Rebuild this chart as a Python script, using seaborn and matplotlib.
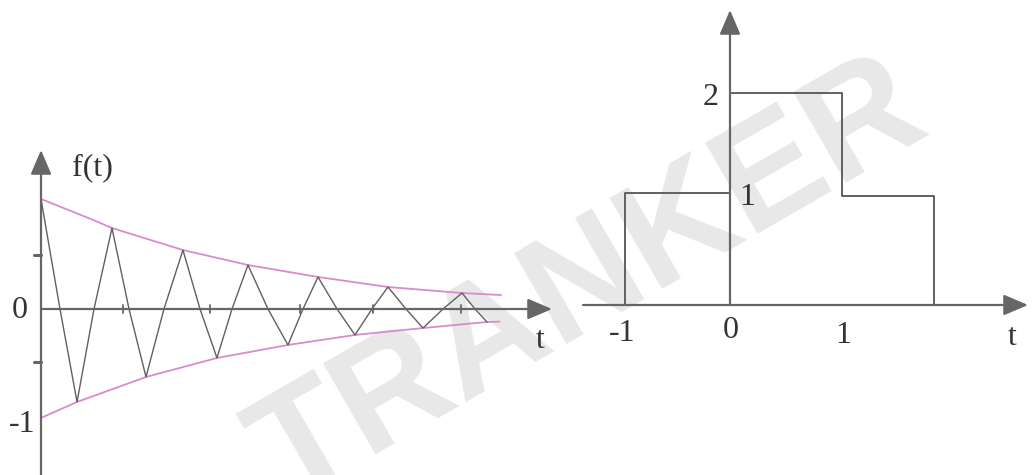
import matplotlib
matplotlib.use("Agg")
import matplotlib.pyplot as plt
import seaborn as sns

# ---------------- data ----------------
# left panel: damped oscillation f(t), extrema and zero crossings
wave_t = [0.0, 0.226, 0.429, 0.631, 0.845, 1.048, 1.25, 1.464, 1.69, 1.893,
          2.095, 2.274, 2.464, 2.702, 2.94, 3.119, 3.298, 3.524, 3.738, 3.94,
          4.131, 4.345, 4.548, 4.786, 5.012, 5.167, 5.31]
wave_f = [1.0, 0.0, -0.845, 0.0, 0.736, 0.0, -0.618, 0.0, 0.536, 0.0,
          -0.445, 0.0, 0.4, 0.0, -0.327, 0.0, 0.291, 0.0, -0.236, 0.0,
          0.2, 0.0, -0.173, 0.0, 0.145, 0.0, -0.118]
# envelopes
env_up_t = [0.0, 0.62, 0.845, 1.69, 2.464, 3.298, 4.131, 5.012, 5.476]
env_up_f = [1.0, 0.81, 0.736, 0.536, 0.4, 0.291, 0.2, 0.145, 0.127]
env_lo_t = [0.0, 0.429, 1.25, 2.095, 2.94, 3.738, 4.548, 5.31, 5.46]
env_lo_f = [-0.99, -0.845, -0.618, -0.445, -0.327, -0.236, -0.173, -0.118, -0.115]
left_xticks = [0.98, 2.01, 3.08, 3.95, 5.0]
left_yticks = [0.49, -0.48]
left_ylabels = ["0", "-1"]
left_ylabel_vals = [0, -1]

# right panel: staircase signal
step_edges = [-0.955, 0.0, 1.018, 1.855]
step_levels = [1.057, 2.0, 1.028]
right_xlabels = ["-1", "0", "1"]
right_xlabel_vals = [-0.982, 0.01, 1.027]
right_ylabels = ["2", "1"]
right_ylabel_vals = [2.0, 1.0]

watermark = "TRANKER"

# ---------------- style ----------------
sns.set_style("white")
plt.rcParams["font.family"] = ["Liberation Serif", "DejaVu Serif"]

W, H = 1032, 475
fig = plt.figure(figsize=(W / 100, H / 100), dpi=100)
fig.patch.set_facecolor("white")

AX_COL = "#666666"
LINE_COL = "#555555"
PINK = "#d98ad0"
TXT = "#333333"
FS = 23

# watermark (behind everything)
fig.text(590 / W, 1 - 285 / H, watermark, fontsize=110, color="#e8e8e8",
         family="Liberation Sans", weight="bold", rotation=30,
         rotation_mode="anchor", ha="center", va="center", zorder=-5)

# ---------- left panel ----------
axL = fig.add_axes([0, 0, 560 / W, 1])
axL.set_zorder(1)
axL.set_xlim((0 - 41) / 84, (560 - 41) / 84)
axL.set_ylim((309 - 475) / 110, (309 - 0) / 110)
axL.axis("off")
axL.patch.set_alpha(0)

arrow_kw = dict(arrowstyle="-|>,head_length=0.75,head_width=0.32",
                mutation_scale=20, color=AX_COL, lw=1.6,
                shrinkA=0, shrinkB=0)
xmaxL = (552 - 41) / 84
axL.annotate("", xy=(xmaxL, 0), xytext=(0, 0), arrowprops=arrow_kw)
axL.annotate("", xy=(0, (309 - 150) / 110), xytext=(0, (309 - 475) / 110),
             arrowprops=arrow_kw)

for xt in left_xticks:
    axL.plot([xt, xt], [-0.04, 0.04], color=AX_COL, lw=1.3)
for yt in left_yticks:
    axL.plot([-0.085, 0], [yt, yt], color=AX_COL, lw=2.2)

sns.lineplot(x=env_up_t, y=env_up_f, sort=False, estimator=None, ax=axL,
             color=PINK, lw=1.3)
sns.lineplot(x=env_lo_t, y=env_lo_f, sort=False, estimator=None, ax=axL,
             color=PINK, lw=1.3)
sns.lineplot(x=wave_t, y=wave_f, sort=False, estimator=None, ax=axL,
             color="#606060", lw=1.0)

axL.text(-0.25, -0.082, left_ylabels[0], fontsize=FS, color=TXT,
         ha="center", va="baseline")
axL.text(-0.226, left_ylabel_vals[1] - 0.118, left_ylabels[1], fontsize=FS,
         color=TXT, ha="center", va="baseline")
axL.text(5.94, -0.355, "t", fontsize=FS, color=TXT, ha="center",
         va="baseline")
axL.text(0.37, 1.218, "f(t)", fontsize=FS, color=TXT, ha="left",
         va="baseline")

# ---------- right panel ----------
axR = fig.add_axes([560 / W, 0, 472 / W, 1])
axR.set_zorder(1)
axR.set_xlim((560 - 730) / 110, (1032 - 730) / 110)
axR.set_ylim((305 - 475) / 106, (305 - 0) / 106)
axR.axis("off")
axR.patch.set_alpha(0)

axR.annotate("", xy=((1028 - 730) / 110, 0), xytext=((583 - 730) / 110, 0),
             arrowprops=arrow_kw)
axR.annotate("", xy=(0, (305 - 10) / 106), xytext=(0, 0), arrowprops=arrow_kw)

sx, sy = [step_edges[0]], [0.0]
for i, h in enumerate(step_levels):
    sx += [step_edges[i], step_edges[i + 1]]
    sy += [h, h]
sx.append(step_edges[-1])
sy.append(0.0)
sns.lineplot(x=sx, y=sy, sort=False, estimator=None, ax=axR,
             color=LINE_COL, lw=1.3)

axR.text(-0.173, right_ylabel_vals[0] - 0.113, right_ylabels[0], fontsize=FS,
         color=TXT, ha="center", va="baseline")
axR.text(0.155, right_ylabel_vals[1] - 0.057, right_ylabels[1], fontsize=FS,
         color=TXT, ha="center", va="baseline")
for lab, xv, bl in zip(right_xlabels, right_xlabel_vals, [-0.34, -0.311, -0.358]):
    axR.text(xv, bl, lab, fontsize=FS, color=TXT, ha="center",
             va="baseline")
axR.text(2.564, -0.377, "t", fontsize=FS, color=TXT, ha="center",
         va="baseline")

fig.savefig("out.png", dpi=100, facecolor="white")
